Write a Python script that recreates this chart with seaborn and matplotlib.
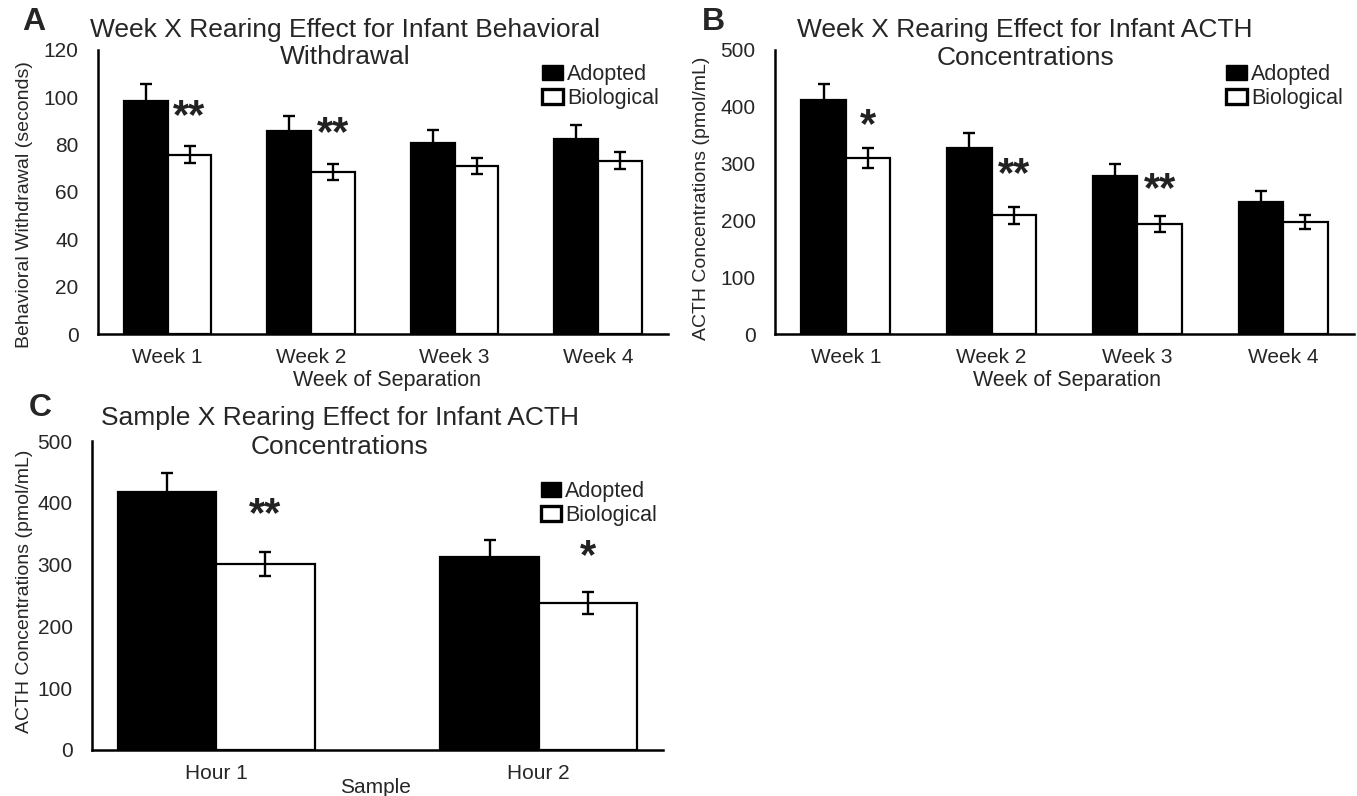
import numpy as np
import pandas as pd
import seaborn as sns
import matplotlib.pyplot as plt
from matplotlib.patches import Patch

# values (means and SE)
weeks = ["Week 1", "Week 2", "Week 3", "Week 4"]
hours = ["Hour 1", "Hour 2"]
groups = ["Adopted", "Biological"]

wd_adopted = [98.4, 85.8, 80.5, 82.3]
wd_adopted_se = [7.1, 6.5, 5.9, 5.8]
wd_bio = [75.8, 68.5, 71.0, 73.3]
wd_bio_se = [3.6, 3.5, 3.4, 3.5]

acth_adopted = [412, 328, 278, 232]
acth_adopted_se = [29, 26, 22, 19]
acth_bio = [310, 209, 194, 197]
acth_bio_se = [17, 15, 14, 12]

hour_adopted = [418, 313]
hour_adopted_se = [31, 27]
hour_bio = [301, 238]
hour_bio_se = [20, 18]

# significance marks: (category, label, height)
stars_a = [(0, "**", 97), (1, "**", 89.6)]
stars_b = [(0, "*", 388), (1, "**", 302), (2, "**", 275)]
stars_c = [(0, "**", 400), (1, "*", 333)]

sns.set_theme(style="white")
plt.rcParams["font.family"] = ["Liberation Sans", "DejaVu Sans"]
txt = "#262626"


def panel(ax, cats, adopted, adopted_se, bio, bio_se, ymax, step, stars):
    df = pd.DataFrame({"cat": cats * 2,
                       "group": np.repeat(groups, len(cats)),
                       "value": adopted + bio})
    sns.barplot(data=df, x="cat", y="value", hue="group",
                palette=["black", "white"], saturation=1,
                edgecolor="black", linewidth=1.6, width=0.61,
                errorbar=None, legend=False, ax=ax)
    se = adopted_se + bio_se
    bars = list(ax.patches)
    for p, e in zip(bars, se):
        ax.errorbar(p.get_x() + p.get_width() / 2, p.get_height(), yerr=e,
                    color="black", capsize=4.5, elinewidth=1.7,
                    capthick=1.7, zorder=5)
    for i, lab, y in stars:
        p = bars[len(cats) + i]
        ax.annotate(lab, (p.get_x() + p.get_width() / 2, y),
                    xytext=(0, -17), textcoords="offset points",
                    ha="center", va="baseline", fontsize=30,
                    fontweight="bold", color="#222222")
    ax.set_ylim(0, ymax)
    ax.set_yticks(np.arange(0, ymax + 1, step))
    ax.tick_params(axis="y", length=0, labelsize=15, pad=14, labelcolor=txt)
    ax.tick_params(axis="x", length=0, labelsize=15, pad=10, labelcolor=txt)
    sns.despine(ax=ax)
    for s in ["left", "bottom"]:
        ax.spines[s].set_linewidth(1.8)
        ax.spines[s].set_color("black")
    ax.set_facecolor("white")


def add_title(ax, x, y1, y2, line1, line2):
    # two separate lines, centred on the same x
    for y, s in [(y1, line1), (y2, line2)]:
        ax.text(x, y, s, transform=ax.transAxes, ha="center", va="center",
                fontsize=19, color=txt)


def add_legend(ax, x, y):
    handles = [Patch(facecolor="black", edgecolor="black", label="Adopted"),
               Patch(facecolor="white", edgecolor="black", linewidth=2.4,
                     label="Biological")]
    ax.legend(handles=handles, loc="upper right", bbox_to_anchor=(x, y),
              frameon=False, fontsize=15.5, handlelength=0.95,
              handleheight=0.7, handletextpad=0.2, labelspacing=0.12,
              borderpad=0, borderaxespad=0)


fig = plt.figure(figsize=(13.57, 7.96), dpi=100)
axA = fig.add_axes([0.0722, 0.5804, 0.42, 0.3568])
axB = fig.add_axes([0.5711, 0.5804, 0.4267, 0.3568])
axC = fig.add_axes([0.0678, 0.0578, 0.4208, 0.388])

# A
panel(axA, weeks, wd_adopted, wd_adopted_se, wd_bio, wd_bio_se, 120, 20, stars_a)
axA.set_xlabel("Week of Separation", fontsize=15.5, color=txt)
axA.set_ylabel("Behavioral Withdrawal (seconds)", fontsize=14, color=txt)
axA.xaxis.set_label_coords(0.507, -0.127)
axA.yaxis.set_label_coords(-0.114, 0.454)
add_title(axA, 0.433, 1.070, 0.975,
          "Week X Rearing Effect for Infant Behavioral", "Withdrawal")
add_legend(axA, 0.984, 0.95)

# B
panel(axB, weeks, acth_adopted, acth_adopted_se, acth_bio, acth_bio_se, 500, 100, stars_b)
axB.set_xlabel("Week of Separation", fontsize=15.5, color=txt)
axB.set_ylabel("ACTH Concentrations (pmol/mL)", fontsize=14, color=txt)
axB.xaxis.set_label_coords(0.504, -0.127)
axB.yaxis.set_label_coords(-0.112, 0.479)
add_title(axB, 0.432, 1.070, 0.972,
          "Week X Rearing Effect for Infant ACTH", "Concentrations")
add_legend(axB, 0.981, 0.95)

# C
panel(axC, hours, hour_adopted, hour_adopted_se, hour_bio, hour_bio_se, 500, 100, stars_c)
axC.set_xlabel("Sample", fontsize=15, color=txt)
axC.set_ylabel("ACTH Concentrations (pmol/mL)", fontsize=14, color=txt)
axC.xaxis.set_label_coords(0.497, -0.09)
axC.yaxis.set_label_coords(-0.103, 0.515)
add_title(axC, 0.434, 1.075, 0.981,
          "Sample X Rearing Effect for Infant ACTH", "Concentrations")
add_legend(axC, 0.99, 0.87)

# panel letters
for lab, x, y in [("A", 0.025, 0.972), ("B", 0.526, 0.972), ("C", 0.0295, 0.487)]:
    fig.text(x, y, lab, ha="center", va="center", fontsize=23,
             fontweight="bold", color=txt)

fig.savefig("out.png", dpi=100, facecolor="white")
